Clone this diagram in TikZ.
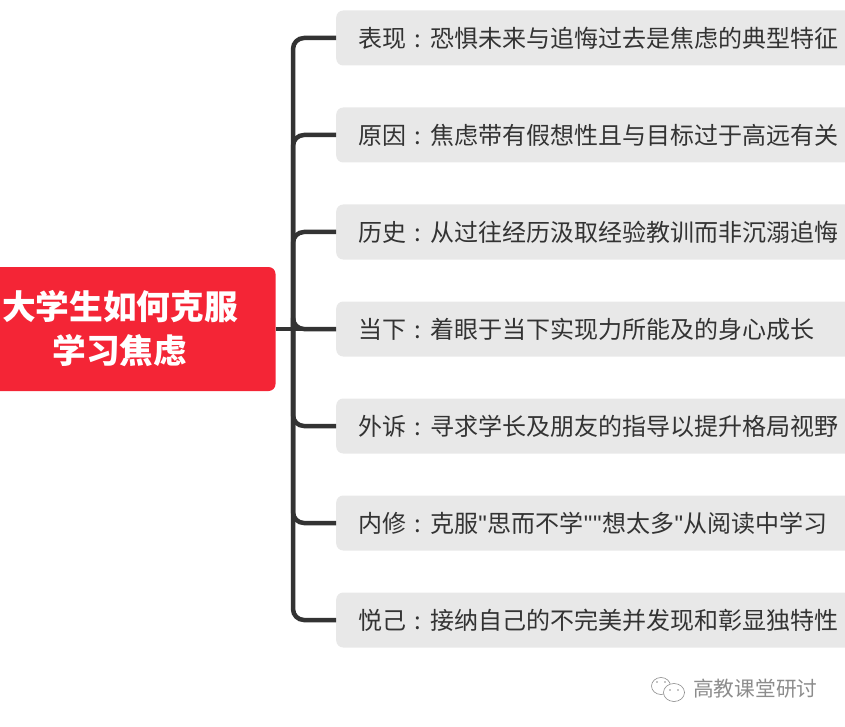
\documentclass[tikz,border=0pt]{standalone}
\usepackage{fontspec}
\setmainfont{Noto Sans CJK SC}
\newfontfamily\quotefont{Liberation Sans}
\usepackage{tikz}
\definecolor{rootred}{HTML}{F42536}
\definecolor{boxgray}{HTML}{E8E8E8}
\definecolor{linegray}{HTML}{333333}
\definecolor{markgray}{HTML}{8C8C8C}
\newcommand{\sepcolon}{\makebox[24pt]{:}}
\newcommand{\dq}{\makebox[9.4pt]{\quotefont\char34}}
\tikzset{
  rootbox/.style={fill=rootred,text=white,rounded corners=7pt,minimum width=311pt,minimum height=124pt,align=center,font=\fontsize{33.7}{44}\selectfont\bfseries},
  topicbox/.style={fill=boxgray,text=linegray,rounded corners=7pt,anchor=west,minimum width=540pt,minimum height=55pt,text width=497pt,inner xsep=21.8pt,align=left,font=\fontsize{24}{28}\selectfont},
  branch/.style={draw=linegray,line width=4.5pt,rounded corners=11pt},
  bubble/.style={draw=markgray,fill=white,line width=0.6pt}
}
\begin{document}
\begin{tikzpicture}[x=1pt,y=-1pt]
\clip (0,0) rectangle (845,727);
\node[rootbox] (root) at (120,329) {大学生如何克服\\学习焦虑};
\coordinate (trunk) at (293,329);
\foreach \name/\ypos/\head/\body in {
  biao/38/表现/恐惧未来与追悔过去是焦虑的典型特征,
  yuan/135/原因/焦虑带有假想性且与目标过于高远有关,
  li/232/历史/从过往经历汲取经验教训而非沉溺追悔,
  dang/329/当下/着眼于当下实现力所能及的身心成长,
  wai/426/外诉/寻求学长及朋友的指导以提升格局视野,
  nei/523/内修/克服\dq 思而不学\dq\dq 想太多\dq 从阅读中学习,
  yue/620/悦己/接纳自己的不完美并发现和彰显独特性}
{
  \node[topicbox] (\name) at (336,\ypos) {\head\sepcolon\body};
  \draw[branch] (trunk) |- (\name.west);
}
\draw[branch] (root.east) -- (dang.west);
\draw[bubble] (661,686) ellipse (9.5pt and 8.5pt);
\draw[bubble] (674,692.5) ellipse (10.5pt and 9pt);
\fill[markgray] (657,682) circle (0.8pt) (665,682) circle (0.8pt) (670,690) circle (0.8pt) (678,690) circle (0.8pt);
\node[text=markgray,anchor=west,inner sep=0pt,font=\fontsize{20.7}{24}\selectfont] (mark) at (693,689) {高教课堂研讨};
\end{tikzpicture}
\end{document}
